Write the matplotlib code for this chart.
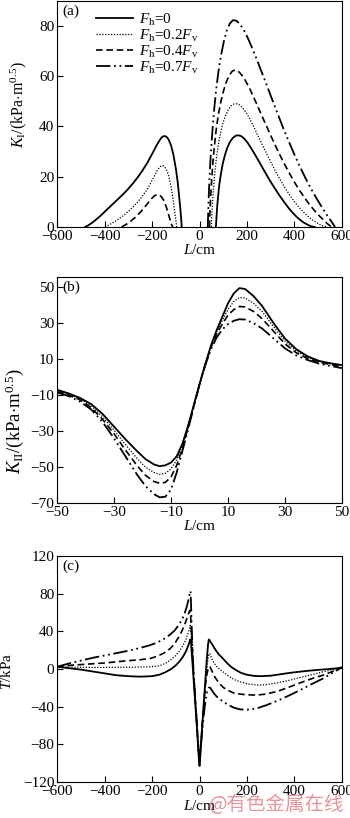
import numpy as np
import matplotlib
matplotlib.use("Agg")
import matplotlib.pyplot as plt

plt.rcParams['font.family'] = ['Liberation Serif', 'DejaVu Serif']
plt.rcParams['mathtext.fontset'] = 'custom'
plt.rcParams['mathtext.rm'] = 'Liberation Serif'
plt.rcParams['mathtext.it'] = 'Liberation Serif:italic'
plt.rcParams['font.size'] = 11

labels = ['$F_{\\rm h}$=0', '$F_{\\rm h}$=0.2$F_{\\rm v}$',
          '$F_{\\rm h}$=0.4$F_{\\rm v}$', '$F_{\\rm h}$=0.7$F_{\\rm v}$']

# (a) K_I: left lobe (none for Fh=0.7Fv) and right lobe
a_left_L = [
    [-482, -470, -455, -440, -420, -400, -380, -360, -340, -320, -300, -280, -260, -240, -220, -200,
     -190, -180, -170, -160, -150, -140, -130, -120, -110, -100, -92, -86, -81, -77, -75],
    [-398, -380, -360, -340, -320, -300, -280, -260, -240, -220, -200, -190, -180, -170, -160, -150,
     -140, -130, -120, -112, -105, -100, -96],
    [-328, -310, -290, -270, -250, -230, -215, -200, -190, -180, -170, -160, -150, -140, -132, -125,
     -118, -112],
]
a_left_K = [
    [0, 0.6, 1.5, 2.6, 4.2, 6, 7.8, 9.6, 11.4, 13.2, 15.2, 17.4, 19.8, 22.5, 25.5, 29,
     30.8, 32.6, 34.2, 35.6, 36.2, 36, 34.8, 32.5, 28.8, 23.5, 18, 12.5, 7.5, 3, 0],
    [0, 0.9, 2, 3.2, 4.6, 6.2, 8, 10, 12.3, 15, 18.5, 20.3, 22.1, 23.6, 24.4, 24.3,
     23, 20.5, 16, 11.5, 6.5, 3, 0],
    [0, 1, 2.3, 3.9, 5.8, 8, 9.8, 11.5, 12.4, 12.9, 12.8, 12, 10.5, 8, 5.5, 3.2,
     1, 0],
]
a_right_L = [
    [69, 71, 74, 78, 83, 90, 98, 107, 117, 128, 140, 152, 163, 175, 188, 202, 218, 235, 255, 275,
     295, 315, 335, 355, 375, 395, 415, 435, 455, 470, 485],
    [50, 52, 55, 59, 64, 70, 78, 87, 97, 108, 120, 133, 146, 158, 170, 183, 197, 212, 228, 245,
     263, 282, 302, 322, 342, 362, 382, 402, 422, 442, 462, 482, 502, 520, 540],
    [42, 44, 47, 51, 56, 62, 70, 79, 89, 100, 112, 125, 138, 150, 163, 177, 192, 208, 225, 243,
     262, 282, 302, 322, 342, 362, 382, 402, 422, 442, 462, 482, 502, 522, 540, 557],
    [35, 37, 40, 44, 49, 55, 62, 70, 80, 91, 103, 115, 128, 141, 155, 170, 186, 203, 221, 240,
     260, 281, 303, 326, 350, 374, 398, 422, 446, 470, 494, 518, 540, 557, 571],
]
a_right_K = [
    [0, 3, 7.5, 12, 16.5, 21, 25.2, 28.6, 31.5, 33.8, 35.4, 36.3, 36.5, 36.2, 35.2, 33.6, 31.3, 28.6,
     25.3, 22, 18.7, 15.7, 12.8, 10.1, 7.6, 5.4, 3.5, 2, 0.9, 0.3, 0],
    [0, 5, 10, 15.5, 21, 26.5, 32, 36.8, 40.8, 44, 46.5, 48.2, 49, 49, 48.5, 47.3, 45.5, 43, 40,
     36.6, 33, 29.3, 25.5, 21.9, 18.5, 15.3, 12.4, 9.8, 7.5, 5.5, 3.8, 2.4, 1.2, 0.4, 0],
    [0, 6, 12, 18.5, 25, 31.5, 38.5, 44.5, 49.5, 53.8, 57.5, 60.3, 62, 62.5, 62, 60.6, 58.5, 55.7,
     52.3, 48.5, 44.4, 40.2, 36, 31.9, 28, 24.3, 20.8, 17.5, 14.5, 11.7, 9.1, 6.8, 4.7, 2.8, 1.2, 0],
    [0, 7, 15, 23, 31, 39, 47, 54.5, 62, 68.5, 74, 78.3, 81, 82.3, 82.1, 80.8, 78.5, 75.3, 71.4,
     67, 62.1, 57, 51.5, 45.8, 40, 34.5, 29.2, 24.2, 19.5, 15.2, 11.2, 7.5, 4.3, 2, 0],
]

# (b) K_II
b_L = [-50, -46, -42, -38, -34, -30, -26, -22, -19, -16, -14, -12, -10, -8, -6, -4, -2, 0,
       2, 4, 6, 8, 10, 12, 14, 16, 19, 22, 26, 30, 34, 38, 42, 46, 50]
b_K = [
    [-7, -9, -11.5, -15, -20.5, -27.5, -34.5, -41, -45.5, -48.5, -49.5, -49, -47.5, -44, -37, -27,
     -15.5, -4, 7, 17.5, 26, 33.5, 41, 46.5, 49.5, 49, 45, 39.5, 30, 21.5, 15.5, 11.5, 9, 7.7, 6.7],
    [-7.5, -9.5, -12, -16, -22, -29.5, -37.5, -45, -50, -53, -54, -53.5, -51, -46, -38, -27.5,
     -15.5, -4, 7, 17, 25, 31.5, 37.5, 42, 44.3, 44, 41, 36.5, 28, 20, 14.5, 11, 8.7, 7.5, 6.5],
    [-8, -10, -12.5, -17, -23.5, -31.5, -40.5, -49, -54.5, -58, -59, -58.5, -55.5, -49, -39.5, -28,
     -16, -4, 7, 16.5, 24, 29.5, 34.5, 37.5, 39.3, 39, 36.5, 32.5, 25.5, 18.5, 13.5, 10.3, 8.3, 7, 5.8],
    [-8.5, -10.5, -13.5, -18, -25, -34, -44, -54, -60.5, -65, -66.8, -66.5, -62.5, -53, -41, -29,
     -16.5, -4, 6.5, 15.5, 22, 26.5, 29.5, 31.3, 32.2, 32, 30, 27, 21.5, 16, 12, 9.5, 7.5, 6.2, 5],
]

# (c) T
c_L = [
    [-600, -550, -500, -450, -400, -350, -300, -250, -200, -170, -145, -120, -100, -85, -70, -58,
     -48, -42, -39, -36, -30, -24, -18, -12, -7, -4, -2, 0, 2, 4, 7, 12, 18, 24, 30, 36, 39, 42,
     46, 52, 60, 70, 82, 96, 112, 130, 150, 175, 200, 230, 260, 300, 340, 380, 420, 460, 500,
     540, 575, 600],
    [-600, -550, -500, -450, -400, -350, -300, -250, -200, -170, -145, -120, -100, -85, -70, -58,
     -48, -42, -39, -36, -30, -24, -18, -12, -7, -4, -2, 0, 2, 4, 7, 12, 18, 24, 30, 36, 40, 43,
     47, 52, 60, 70, 82, 100, 120, 145, 171, 200, 241, 280, 330, 381, 430, 480, 521, 560, 600],
    [-600, -550, -489, -450, -400, -349, -300, -250, -208, -180, -150, -125, -105, -90, -75, -63,
     -53, -46, -41, -38, -33, -27, -21, -15, -10, -6, -3, 0, 3, 6, 10, 15, 20, 25, 30, 36, 40,
     44, 48, 55, 65, 80, 100, 120, 145, 171, 200, 241, 280, 330, 381, 430, 480, 521, 560, 600],
    [-600, -550, -500, -450, -400, -350, -300, -250, -208, -180, -150, -125, -105, -90, -75, -63,
     -54, -47, -43, -40, -38, -36, -33, -28, -22, -16, -11, -7, -4, -2, 0, 2, 4, 7, 11, 16, 21,
     26, 32, 38, 42, 46, 52, 60, 70, 85, 100, 120, 145, 171, 200, 241, 280, 330, 381, 430, 480,
     521, 560, 600],
]
c_T = [
    [2.5, 1, -0.5, -2.5, -4.5, -6.5, -7.5, -8, -7.5, -6, -3.5, 0, 4, 8, 13, 18.5,
     24.5, 29, 31.5, 29, 8, -14, -36, -58, -78, -90, -98, -103, -98, -90, -78, -58, -36, -14, 8, 26,
     31.5, 31, 29, 27, 23.5, 19.5, 15.5, 12, 7.5, 3, -0.5, -4, -6, -7.2, -7.5, -7, -5.5, -4, -2.8,
     -1.7, -0.8, 0, 0.8, 1.6],
    [2.5, 2.2, 2, 1.8, 1.8, 1.9, 2, 2.2, 2.6, 3.5, 6, 10, 14.5, 19, 25, 31,
     38, 43, 46.5, 40, 12, -12, -35, -57, -76, -88, -95, -99, -95, -88, -77, -58, -37, -17, -2, 11,
     16, 16.6, 14, 11, 7, 3.5, 0.5, -3, -7, -11, -13.5, -15.5, -17, -16.5, -14.5, -11.7, -8.5,
     -5.5, -2.8, -0.5, 1.8],
    [2.5, 4, 5, 5.7, 6.5, 7.8, 9, 10, 11.3, 13.5, 17, 21.5, 27, 33, 40, 47,
     54, 59, 62.5, 60, 35, 5, -20, -43, -62, -78, -89, -96, -89, -79, -65, -48, -31, -17, -7, 0,
     2.5, 2.5, 0.5, -3.5, -8.5, -14, -19.5, -22.5, -25.5, -26.5, -27.3, -27.6, -26.5, -23.5,
     -18.8, -14, -9.5, -6.4, -2.5, 1.8],
    [2.5, 6, 9, 12, 14.5, 17, 19.5, 22.5, 25.5, 28, 32, 36.5, 41, 46, 52, 59,
     66, 73, 78, 82, 83, 72, 45, 12, -15, -38, -58, -74, -86, -91, -94, -91, -86, -78, -67, -54,
     -42, -32, -24, -20, -19.5, -20, -22.5, -25.5, -28.5, -32, -34.5, -38, -41, -42.8, -43.2,
     -41.7, -38.5, -33.5, -27.6, -21.5, -15, -9.9, -4, 2],
]

styles = [
    dict(color='black', lw=1.3, linestyle='-'),
    dict(color='black', lw=0.9, linestyle=(0, (1, 1.3))),
    dict(color='black', lw=1.2, linestyle=(0, (4, 2.2))),
    dict(color='black', lw=1.3, linestyle=(0, (8, 2, 1, 2, 1, 2))),
]

fig = plt.figure(figsize=(3.5, 8.18), dpi=100)
ax1 = fig.add_axes([0.163, 0.7225, 0.814, 0.2765])
ax2 = fig.add_axes([0.163, 0.385, 0.814, 0.276])
ax3 = fig.add_axes([0.163, 0.044, 0.814, 0.276])

# (a)
for i in range(4):
    if i < 3:
        ax1.plot(a_left_L[i], a_left_K[i], **styles[i])
    ax1.plot(a_right_L[i], a_right_K[i], label=labels[i], **styles[i])
ax1.set_xlim(-600, 600)
ax1.set_ylim(0, 90)
ax1.set_xticks(np.arange(-600, 601, 200))
ax1.set_yticks(np.arange(0, 81, 20))
ax1.set_xlabel('$L$/cm', labelpad=0)
ax1.set_ylabel('$K_{\\rm I}$/(kPa$\\cdot$m$^{0.5}$)', fontsize=11.5)
ax1.yaxis.set_label_coords(-0.10, 0.54)
ax1.text(0.02, 0.985, '(a)', transform=ax1.transAxes, va='top', ha='left')
ax1.legend(loc='upper left', bbox_to_anchor=(0.1, 1.0), frameon=False,
           handlelength=2.4, labelspacing=0.0, borderpad=0.2, handletextpad=0.4)

# (b)
for i in range(4):
    ax2.plot(b_L, b_K[i], **styles[i])
ax2.set_xlim(-50, 50)
ax2.set_ylim(-70, 55.5)
ax2.set_xticks(np.arange(-50, 51, 20))
ax2.set_yticks(np.arange(-70, 51, 20))
ax2.set_xlabel('$L$/cm', labelpad=0)
ax2.set_ylabel('$K_{\\rm II}$/(kPa$\\cdot$m$^{0.5}$)', fontsize=13.5)
ax2.yaxis.set_label_coords(-0.108, 0.36)
ax2.text(0.02, 0.985, '(b)', transform=ax2.transAxes, va='top', ha='left')

# (c)
for i in range(4):
    ax3.plot(c_L[i], c_T[i], **styles[i])
ax3.set_xlim(-600, 600)
ax3.set_ylim(-120, 120)
ax3.set_xticks(np.arange(-600, 601, 200))
ax3.set_yticks(np.arange(-120, 121, 40))
ax3.set_xlabel('$L$/cm', labelpad=1)
ax3.set_ylabel('$T$/kPa')
ax3.yaxis.set_label_coords(-0.15, 0.49)
ax3.text(0.02, 0.985, '(c)', transform=ax3.transAxes, va='top', ha='left')

for ax in (ax1, ax2, ax3):
    ax.tick_params(direction='in', length=4, width=0.8, pad=2)
    for s in ax.spines.values():
        s.set_linewidth(0.8)

fig.text(0.985, 0.004, '@有色金属在线', ha='right', va='bottom', fontsize=14,
         color='#e0707a', alpha=0.75, family=['Noto Sans CJK SC', 'DejaVu Sans'])

fig.savefig('out.png', dpi=100)
